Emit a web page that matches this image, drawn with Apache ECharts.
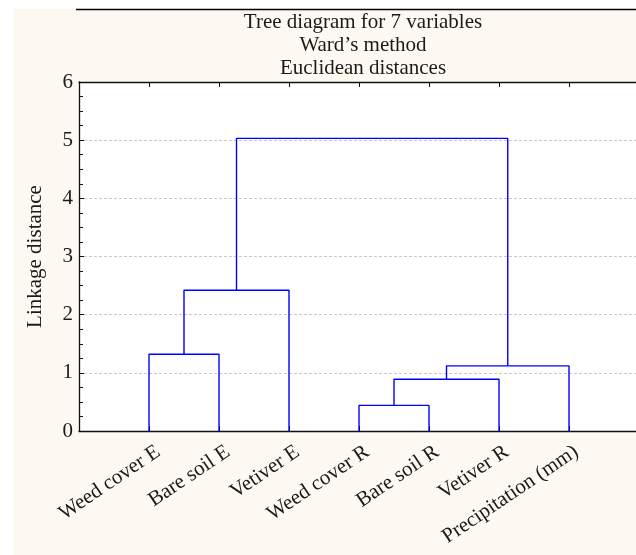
<!DOCTYPE html>
<html>
<head>
<meta charset="utf-8">
<script src="https://cdn.jsdelivr.net/npm/echarts@6/dist/echarts.min.js"></script>
<style>html,body{margin:0;padding:0;background:#fff;}#c{width:636px;height:555px;}</style>
</head>
<body>
<div id="c"></div>
<script>
// ---- data ----
const leaves = ['Weed cover E', 'Bare soil E', 'Vetiver E', 'Weed cover R', 'Bare soil R', 'Vetiver R', 'Precipitation (mm)'];
// merges: node ids 0..6 are leaves; merge k creates node 7+k
const mergeLeft   = [3, 7, 8, 0, 10, 11];
const mergeRight  = [4, 5, 6, 1, 2, 9];
const mergeHeight = [0.44, 0.89, 1.12, 1.32, 2.42, 5.03];
const yTicks = [0, 1, 2, 3, 4, 5, 6];
const titleLines = ['Tree diagram for 7 variables', "Ward\u2019s method", 'Euclidean distances'];
const yName = 'Linkage distance';

// ---- build dendrogram segments ----
const FONT = 'Liberation Serif';
const nodeX = leaves.map((_, i) => i);
const nodeH = leaves.map(() => 0);
const series = [];
for (let k = 0; k < mergeLeft.length; k++) {
  const a = mergeLeft[k], b = mergeRight[k], h = mergeHeight[k];
  series.push({
    type: 'line', xAxisIndex: 0, yAxisIndex: 0, symbol: 'none', silent: true,
    lineStyle: { color: '#0000ff', width: 1.4 },
    data: [[nodeX[a], nodeH[a]], [nodeX[a], h], [nodeX[b], h], [nodeX[b], nodeH[b]]],
    z: 3
  });
  nodeX.push((nodeX[a] + nodeX[b]) / 2);
  nodeH.push(h);
}

const chart = echarts.init(document.getElementById('c'), null, { renderer: 'canvas' });
const axisColor = '#111';
const leafLabel = v => (Math.abs(v - Math.round(v)) < 1e-6 && v >= 0 && v < leaves.length) ? leaves[Math.round(v)] : '';
chart.setOption({
  animation: false,
  backgroundColor: '#fff',
  graphic: [
    { type: 'rect', shape: { x: 13, y: 9, width: 623, height: 546 }, style: { fill: '#fdf9f0' }, z: -10, silent: true },
    { type: 'line', shape: { x1: 76, y1: 9.5, x2: 636, y2: 9.5 }, style: { stroke: '#000', lineWidth: 1.5 }, z: 10, silent: true }
  ],
  title: {
    text: titleLines.join('\n'),
    left: 358, top: 6, textAlign: 'center',
    textStyle: { fontFamily: FONT, fontSize: 21, fontWeight: 'normal', color: '#1a1a1a', lineHeight: 23 }
  },
  grid: [
    { left: 79, right: 0, top: 82, bottom: 124, show: true, backgroundColor: '#fff', borderWidth: 0 },
    { left: 88.6, right: 0, top: 82, bottom: 124, show: false }
  ],
  xAxis: [
    { type: 'value', gridIndex: 0, position: 'bottom', min: -1, max: 6.957, interval: 1,
      axisLine: { show: true, onZero: false, lineStyle: { color: axisColor, width: 1.3 } },
      axisTick: { show: true, inside: true, length: 5, lineStyle: { color: axisColor } },
      axisLabel: { show: false }, splitLine: { show: false } },
    { type: 'value', gridIndex: 0, position: 'top', min: -1, max: 6.957, interval: 1,
      axisLine: { show: true, onZero: false, lineStyle: { color: axisColor, width: 1.3 } },
      axisTick: { show: true, inside: true, length: 5, lineStyle: { color: axisColor } },
      axisLabel: { show: false }, splitLine: { show: false } },
    { type: 'value', gridIndex: 1, position: 'bottom', min: -1, max: 6.82, interval: 1,
      axisLine: { show: false, onZero: false }, axisTick: { show: false }, splitLine: { show: false },
      axisLabel: { show: true, rotate: 34, margin: 19, fontFamily: FONT, fontSize: 21, color: '#1a1a1a',
        showMinLabel: true, showMaxLabel: true, hideOverlap: false, formatter: leafLabel } }
  ],
  yAxis: [
    { type: 'value', gridIndex: 0, min: 0, max: 6, interval: 1, position: 'left',
      name: yName, nameLocation: 'middle', nameRotate: 90, nameGap: 33,
      nameTextStyle: { fontFamily: FONT, fontSize: 21, color: '#1a1a1a' },
      axisLine: { show: true, onZero: false, lineStyle: { color: axisColor, width: 1.3 } },
      axisTick: { show: true, inside: true, length: 5, lineStyle: { color: axisColor } },
      minorTick: { show: true, splitNumber: 4, length: 4, lineStyle: { color: axisColor } },
      axisLabel: { margin: 6, fontFamily: FONT, fontSize: 21, color: '#1a1a1a',
        formatter: v => yTicks.includes(v) ? String(v) : '' },
      splitLine: { show: true, lineStyle: { color: '#c8c8c8', type: [3, 2], width: 1 } } },
    { type: 'value', gridIndex: 1, min: 0, max: 6, show: false }
  ],
  series: series
});
</script>
</body>
</html>
